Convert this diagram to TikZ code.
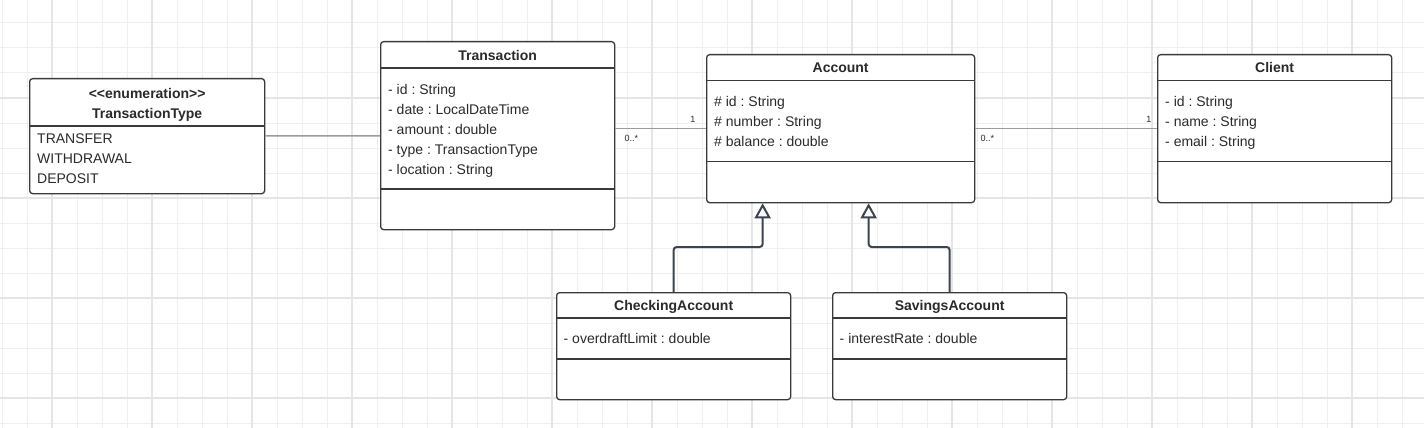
\documentclass[tikz,border=0pt]{standalone}
\usepackage{fontspec}
\setmainfont{Liberation Sans}
\usetikzlibrary{positioning,calc,arrows.meta}
\frenchspacing

\definecolor{bordure}{HTML}{3A3A3A}
\definecolor{texte}{HTML}{2A2A2A}
\definecolor{lien}{HTML}{9C9C9C}
\definecolor{heritage}{HTML}{3D4451}
\definecolor{grille}{HTML}{EFEFEF}
\definecolor{grillemaj}{HTML}{E5E5E5}

\tikzset{
  classe/.style={draw=bordure, line width=1.3pt, rounded corners=3pt, fill=white, anchor=north west, inner sep=0pt},
  titre/.style={font=\bfseries\fontsize{14}{20}\selectfont, text=texte, inner sep=0pt, anchor=north, align=center},
  attr/.style={font=\fontsize{14}{20}\selectfont, text=texte, inner sep=0pt, align=left},
  sep/.style={draw=bordure, line width=1.3pt},
  assoc/.style={draw=lien, line width=1.5pt},
  mult/.style={font=\fontsize{9}{10}\selectfont, text=texte, inner sep=2pt},
  gen/.style={draw=heritage, line width=2pt, rounded corners=3pt, -{Triangle[width=16pt, length=15pt, fill=white]}}
}

\begin{document}
\begin{tikzpicture}[x=1pt, y=-1pt]
            % Fond quadrillé
            \fill[white] (0,0) rectangle (1424,428);
            \useasboundingbox (0,0) rectangle (1424,428);
            \draw[grille, line width=1pt, shift={(2,23)}] (-2,-23) grid[step=25pt] (1422,405);
            \draw[grillemaj, line width=1.2pt, shift={(52,98)}] (-52,-98) grid[step=100pt] (1372,330);

            % Énumération
            \node[classe, minimum width=235pt, minimum height=115pt] (ttype) at (29,78) {};
            \node[titre, below=10pt of ttype.north] (ttypeT) {<\kern0pt<enumeration>\kern0pt>\\TransactionType};
            \node[attr, below right=56pt and 8pt of ttype.north west] (ttypeA) {TRANSFER\\WITHDRAWAL\\DEPOSIT};
            \draw[sep] ($(ttype.north west)+(0,48)$) -- ($(ttype.north east)+(0,48)$);

            % Transaction
            \node[classe, minimum width=234pt, minimum height=188pt] (trans) at (380,41) {};
            \node[titre, below=9pt of trans.north] (transT) {Transaction};
            \node[attr, below right=43pt and 8pt of trans.north west] (transA) {- id : String\\- date : LocalDateTime\\- amount : double\\- type : TransactionType\\- location : String};
            \draw[sep] ($(trans.north west)+(0,27)$) -- ($(trans.north east)+(0,27)$);
            \draw[sep] ($(trans.north west)+(0,148)$) -- ($(trans.north east)+(0,148)$);

            % Account
            \node[classe, minimum width=268pt, minimum height=148pt] (acc) at (706,54) {};
            \node[titre, below=8.5pt of acc.north] (accT) {Account};
            \node[attr, below right=42pt and 8pt of acc.north west] (accA) {\# id : String\\\# number : String\\\# balance : double};
            \draw[sep] ($(acc.north west)+(0,26.5)$) -- ($(acc.north east)+(0,26.5)$);
            \draw[sep] ($(acc.north west)+(0,107.5)$) -- ($(acc.north east)+(0,107.5)$);

            % Client
            \node[classe, minimum width=234pt, minimum height=148pt] (client) at (1157,54) {};
            \node[titre, below=8.5pt of client.north] (clientT) {Client};
            \node[attr, below right=42pt and 8pt of client.north west] (clientA) {- id : String\\- name : String\\- email : String};
            \draw[sep] ($(client.north west)+(0,26.5)$) -- ($(client.north east)+(0,26.5)$);
            \draw[sep] ($(client.north west)+(0,107.5)$) -- ($(client.north east)+(0,107.5)$);

            % Sous-classes
            \node[classe, minimum width=234pt, minimum height=107pt] (check) at (556,292) {};
            \node[titre, below=8.5pt of check.north] (checkT) {CheckingAccount};
            \node[attr, below right=41.5pt and 7.5pt of check.north west] (checkA) {- overdraftLimit : double};
            \draw[sep] ($(check.north west)+(0,26)$) -- ($(check.north east)+(0,26)$);
            \draw[sep] ($(check.north west)+(0,67)$) -- ($(check.north east)+(0,67)$);

            \node[classe, minimum width=234pt, minimum height=107pt] (sav) at (832,292) {};
            \node[titre, below=8.5pt of sav.north] (savT) {SavingsAccount};
            \node[attr, below right=41.5pt and 7.5pt of sav.north west] (savA) {- interestRate : double};
            \draw[sep] ($(sav.north west)+(0,26)$) -- ($(sav.north east)+(0,26)$);
            \draw[sep] ($(sav.north west)+(0,67)$) -- ($(sav.north east)+(0,67)$);

            % Associations
            \draw[assoc] (ttype) -- (trans);
            \draw[assoc] (trans.east |- acc.west) -- (acc.west)
                node[mult, pos=0, anchor=north west, xshift=6.5pt, yshift=-3.5pt] {0..*}
                node[mult, pos=1, anchor=south east, xshift=-8pt, yshift=3pt] {1};
            \draw[assoc] (acc) -- (client)
                node[mult, pos=0, anchor=north west, xshift=2.5pt, yshift=-3.5pt] {0..*}
                node[mult, pos=1, anchor=south east, xshift=-3pt, yshift=3pt] {1};

            % Héritage
            \draw[gen] (check.north) -- ++(0,-45) -| ([xshift=-78pt]acc.south);
            \draw[gen] (sav.north) -- ++(0,-45) -| ([xshift=28pt]acc.south);
\end{tikzpicture}
\end{document}
